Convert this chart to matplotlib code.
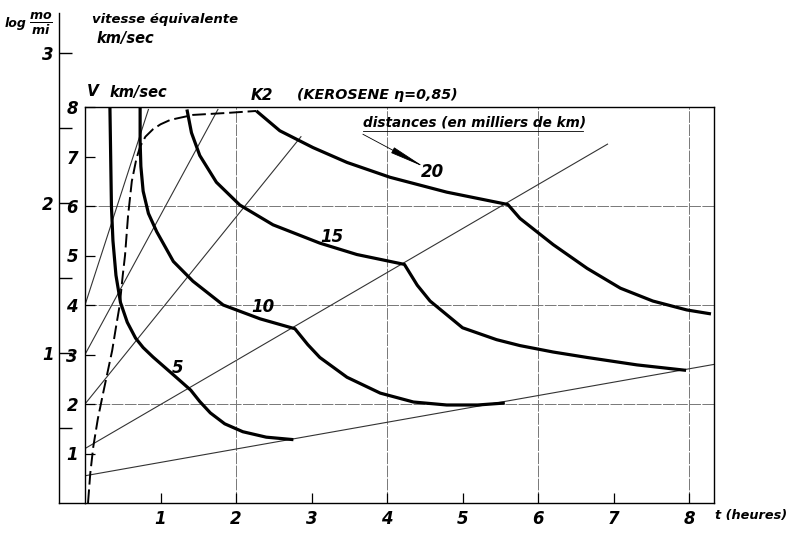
import matplotlib
matplotlib.use("Agg")
import matplotlib.pyplot as plt

W, H = 786, 533

# distance curves, thousands of km: flight time t (hours) against speed V (km/s)
d5_t = [0.33, 0.34, 0.35, 0.37, 0.41, 0.47, 0.56, 0.67, 0.77, 0.90, 1.05, 1.20, 1.40,
        1.52, 1.66, 1.85, 2.09, 2.40, 2.76]
d5_v = [8.00, 7.00, 6.00, 5.30, 4.60, 4.05, 3.65, 3.33, 3.14, 2.95, 2.75, 2.55, 2.28,
        2.05, 1.82, 1.60, 1.44, 1.33, 1.28]

d10_t = [0.73, 0.73, 0.74, 0.77, 0.84, 0.95, 1.17, 1.43, 1.83, 2.32, 2.78,
         2.95, 3.11, 3.47, 3.91, 4.35, 4.79, 5.20, 5.56]
d10_v = [8.00, 7.30, 6.80, 6.30, 5.85, 5.48, 4.88, 4.48, 4.00, 3.72, 3.52,
         3.20, 2.94, 2.54, 2.22, 2.04, 1.98, 1.98, 2.02]

d15_t = [1.35, 1.41, 1.52, 1.74, 2.05, 2.49, 3.11, 3.60, 4.23,
         4.40, 4.57, 5.00, 5.45, 5.76, 6.20, 6.65, 7.31, 7.96]
d15_v = [7.95, 7.48, 7.02, 6.48, 6.02, 5.62, 5.25, 5.02, 4.82,
         4.40, 4.08, 3.54, 3.30, 3.18, 3.05, 2.94, 2.79, 2.68]

d20_t = [2.27, 2.58, 3.02, 3.47, 4.04, 4.79, 5.60,
         5.76, 6.20, 6.65, 7.09, 7.52, 7.97, 8.29]
d20_v = [7.92, 7.52, 7.18, 6.88, 6.58, 6.28, 6.03,
         5.75, 5.22, 4.74, 4.34, 4.08, 3.90, 3.82]

curves = [(d5_t, d5_v, "5"), (d10_t, d10_v, "10"), (d15_t, d15_v, "15"), (d20_t, d20_v, "20")]
label_t = [1.22, 2.36, 3.27, 4.60]
label_v = [2.73, 3.96, 5.37, 6.69]

# dashed K2 curve
k2_t = [0.04, 0.07, 0.11, 0.17, 0.24, 0.30, 0.36, 0.41, 0.46, 0.50, 0.53, 0.57, 0.62,
        0.68, 0.73, 0.80, 0.90, 1.00, 1.13, 1.43, 1.88, 2.27]
k2_v = [0.00, 0.60, 1.14, 1.70, 2.22, 2.65, 3.08, 3.55, 4.00, 4.60, 5.00, 5.80, 6.50,
        6.95, 7.20, 7.40, 7.55, 7.65, 7.74, 7.84, 7.88, 7.92]

# thin straight rays from the V axis
ray_v0 = [0.55, 1.10, 2.00, 3.00, 4.00]
ray_t1 = [8.33, 6.92, 2.86, 1.76, 0.84]
ray_v1 = [2.80, 7.25, 7.40, 7.95, 7.95]

grid_t = [2, 4, 6, 8]
grid_v = [2, 4, 6]
log_ticks = [0.5, 1, 1.5, 2, 2.5, 3]
log_labels = ["", "1", "", "2", "", "3"]

font = dict(family="DejaVu Sans", style="italic", weight="bold")
plt.rcParams["mathtext.fontset"] = "custom"
plt.rcParams["mathtext.it"] = "DejaVu Sans:italic:bold"
plt.rcParams["mathtext.rm"] = "DejaVu Sans:bold"


def box(x0, y0, x1, y1):
    return [x0 / W, 1 - y1 / H, (x1 - x0) / W, (y1 - y0) / H]


def px(x, y):
    return x / W, 1 - y / H


fig = plt.figure(figsize=(W / 100, H / 100), dpi=100)

# log mo/mi axis on the far left
lax = fig.add_axes(box(59, 13, 85, 503))
lax.set_ylim(0, (503 - 13) / 150)
lax.set_xlim(0, 1)
for s in ["top", "right"]:
    lax.spines[s].set_visible(False)
lax.spines["left"].set_linewidth(1.0)
lax.spines["bottom"].set_linewidth(1.0)
lax.set_xticks([])
lax.set_yticks(log_ticks)
lax.set_yticklabels(log_labels, fontsize=12, **font)
lax.tick_params(axis="y", direction="in", length=9, width=1.0, pad=4)
lax.patch.set_alpha(0)

ax = fig.add_axes(box(85, 107, 714, 503))
ax.set_xlim(0, 8.33)
ax.set_ylim(0, 8)
for s in ax.spines.values():
    s.set_linewidth(1.0)

for g in grid_t:
    ax.axvline(g, color="#777777", lw=0.7, ls=(0, (12, 1.5)), zorder=1)
for g in grid_v:
    ax.axhline(g, color="#777777", lw=0.7, ls=(0, (12, 1.5)), zorder=1)

ax.set_xticks(range(1, 9))
ax.set_xticklabels([str(i) for i in range(1, 9)], fontsize=12, **font)
ax.set_yticks(range(1, 9))
ax.set_yticklabels([str(i) for i in range(1, 9)], fontsize=12, **font)
ax.tick_params(direction="in", length=7, width=0.9, pad=5)

for v0, t1, v1 in zip(ray_v0, ray_t1, ray_v1):
    ax.plot([0, t1], [v0, v1], color="#333333", lw=0.8, zorder=2)

ax.plot(k2_t, k2_v, color="black", lw=1.4, ls=(0, (7, 2.5)), zorder=3)

for (t, v, name), lt, lv in zip(curves, label_t, label_v):
    ax.plot(t, v, color="black", lw=2.3, solid_capstyle="butt", zorder=4)
    ax.text(lt, lv, name, fontsize=12, ha="center", va="center", zorder=5, **font)

ax.annotate("", xy=(4.49, 6.79), xytext=(3.68, 7.45),
            arrowprops=dict(arrowstyle="-|>,head_length=2.2,head_width=0.2",
                            lw=0.6, color="black", shrinkA=0, shrinkB=0),
            zorder=5)

# texts around the frame
fig.text(*px(26, 23), "log", fontsize=9, ha="right", va="center", **font)
fig.text(*px(41, 24), r"$\frac{mo}{mi}$", fontsize=13, ha="center", va="center")
fig.text(*px(92, 20), "vitesse équivalente", fontsize=9.5, ha="left", va="center", **font)
fig.text(*px(97, 39), "km/sec", fontsize=10.5, ha="left", va="center", **font)
fig.text(*px(87, 91), "V", fontsize=11, ha="left", va="center", **font)
fig.text(*px(110, 93), "km/sec", fontsize=10.5, ha="left", va="center", **font)
fig.text(*px(262, 95), "K2", fontsize=11, ha="center", va="center", **font)
fig.text(*px(297, 95), "(KEROSENE η=0,85)", fontsize=10.3, ha="left", va="center", **font)
fig.text(*px(363, 122), "distances (en milliers de km)", fontsize=9.8, ha="left", va="center", **font)
fig.add_artist(plt.Line2D([363 / W, 583 / W], [1 - 131 / H, 1 - 131 / H],
                          color="black", lw=0.6))
fig.text(*px(715, 515), "t (heures)", fontsize=9.3, ha="left", va="center", **font)

fig.savefig("out.png", dpi=100)
